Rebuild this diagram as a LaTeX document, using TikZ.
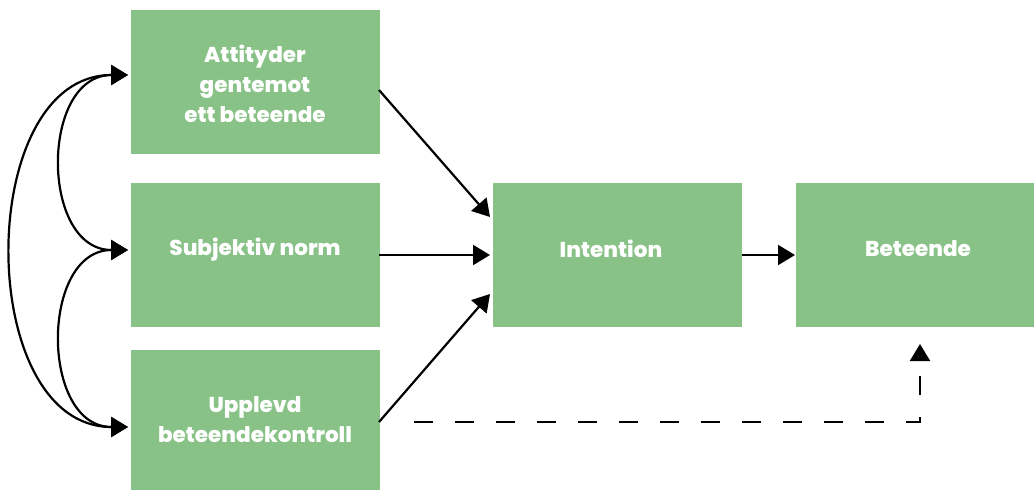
\documentclass[tikz,border=0pt]{standalone}
\usepackage{fontspec}
\setmainfont{Poppins}[BoldFont={Poppins ExtraBold}]
\usetikzlibrary{arrows.meta}
\definecolor{boxgreen}{RGB}{136,194,135}
\tikzset{
  box/.style={fill=boxgreen, draw=none, anchor=north west, inner sep=0pt},
  txt/.style={text=white, font=\bfseries\fontsize{21.5}{30}\selectfont, align=center, inner sep=0pt},
  conn/.style={line width=2.2pt, -{Triangle[length=17pt,width=20pt]}},
  biconn/.style={line width=2.2pt, {Triangle[length=17pt,width=20pt]}-{Triangle[length=17pt,width=20pt]}},
  dashconn/.style={line width=2.2pt, dash pattern=on 19pt off 22pt, -{Triangle[length=17pt,width=20pt]}}
}
\begin{document}
\begin{tikzpicture}[x=1pt,y=-1pt]
\useasboundingbox (0,0) rectangle (1034,490);
% boxes
\node[box, minimum width=249pt, minimum height=144pt] (b1) at (131,10) {};
\node[box, minimum width=249pt, minimum height=144pt] (b2) at (131,183) {};
\node[box, minimum width=249pt, minimum height=140pt] (b3) at (131,350) {};
\node[box, minimum width=249pt, minimum height=144pt] (int) at (493,183) {};
\node[box, minimum width=238pt, minimum height=144pt] (beh) at (796,183) {};
% texts
\node[txt] (t1) at (255,84) {Attityder\\gentemot\\ett beteende};
\node[txt] (t2) at (255,250) {Subjektiv norm};
\node[txt] (t3) at (255,420) {Upplevd\\beteendekontroll};
\node[txt] (t4) at (611,249) {Intention};
\node[txt] (t5) at (918,249) {Beteende};
% arrow ends on the left
\coordinate (l1) at (128,75);
\coordinate (l2) at (128,250);
\coordinate (l3) at (128,427);
\draw[biconn] (l1) .. controls (40,75) and (40,250) .. (l2);
\draw[biconn] (l2) .. controls (40,250) and (40,427) .. (l3);
\draw[biconn] (l1) .. controls (-26,75) and (-26,427) .. (l3);
% arrows to intention
\coordinate (s1) at (379,90);
\coordinate (e1) at (490,217);
\coordinate (s2) at (379,255);
\coordinate (e2) at (490,255);
\coordinate (s3) at (379,422);
\coordinate (e3) at (490,294);
\draw[conn] (s1) -- (e1);
\draw[conn] (s2) -- (e2);
\draw[conn] (s3) -- (e3);
% intention to behaviour
\coordinate (s4) at (742,255);
\coordinate (e4) at (795,255);
\draw[conn] (s4) -- (e4);
% dashed
\coordinate (ds) at (414,422);
\coordinate (dc) at (920,422);
\coordinate (de) at (920,344);
\draw[dashconn] (ds) -- (dc) -- (de);
\end{tikzpicture}
\end{document}
